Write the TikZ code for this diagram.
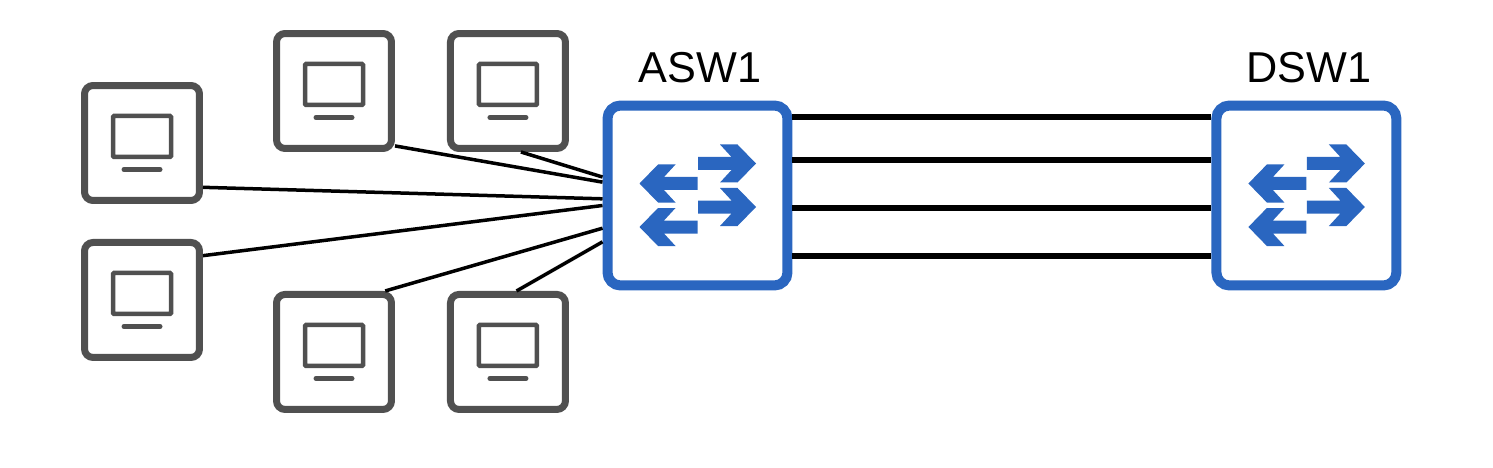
\documentclass[tikz,border=0pt]{standalone}
\usepackage{fontspec}
\setmainfont{Liberation Sans}
\usepackage{tikz}
\definecolor{swblue}{RGB}{42,102,192}
\definecolor{pcgray}{RGB}{80,80,80}
\tikzstyle{pcbox} = [rectangle, rounded corners=0.17cm, minimum size=2.3cm, draw=pcgray, line width=0.14cm, fill=white, inner sep=0pt]
\tikzstyle{swbox} = [rectangle, rounded corners=0.26cm, minimum size=3.6cm, draw=swblue, line width=0.2cm, fill=white, inner sep=0pt]
\tikzstyle{devname} = [font=\fontsize{24.6}{28}\selectfont, text=black, inner sep=0pt, xshift=0.05cm]
\tikzstyle{access} = [black, line width=0.07cm]
\tikzstyle{uplink} = [black, line width=0.13cm]
\tikzset{
  pics/screen/.style={code={
    \draw [pcgray, line width=0.09cm, rounded corners=0.02cm] (-29,27) rectangle (29,-14);
    \draw [pcgray, line width=0.1cm, line cap=round] (-18,-26.5) -- (18,-26.5);
  }},
  pics/fwdarrow/.style={code={
    \fill [swblue] (0,6.5) -- (33.5,6.5) -- (22,19) -- (39.5,19) -- (58,0) -- (39.5,-19) -- (22,-19) -- (33.5,-6.5) -- (0,-6.5) -- cycle;
  }},
}
\begin{document}
\begin{tikzpicture}[x=0.02cm, y=0.02cm]
        \useasboundingbox (0,0) rectangle (1493,467);
        \node (pc1) [pcbox] at (142,324) {};
        \node (pc2) [pcbox, below of=pc1, node distance=3.14cm] {};
        \node (pc3) [pcbox] at (334,376) {};
        \node (pc4) [pcbox, right of=pc3, node distance=3.48cm] {};
        \node (pc5) [pcbox, below of=pc3, node distance=5.22cm] {};
        \node (pc6) [pcbox, right of=pc5, node distance=3.48cm] {};
        \node (asw1) [swbox] at (697.5,271.5) {};
        \node (dsw1) [swbox, right of=asw1, node distance=12.18cm] {};
        \node (asw1_name) [devname, above of=asw1, node distance=2.55cm] {ASW1};
        \node (dsw1_name) [devname, above of=dsw1, node distance=2.55cm] {DSW1};
        % access links
        \draw [access] (pc1.-36) -- (asw1.182.7);
        \draw [access] (pc2.36) -- (asw1.186.9);
        \draw [access] (pc3.-42) -- (asw1.172.5);
        \draw [access] (pc4.-78.7) -- (asw1.169);
        \draw [access] (pc5.50) -- (asw1.199);
        \draw [access] (pc6.82.5) -- (asw1.206.7);
        % uplinks
        \draw [uplink] ([yshift=1.57cm]asw1.east) -- ([yshift=1.57cm]dsw1.west);
        \draw [uplink] ([yshift=0.71cm]asw1.east) -- ([yshift=0.71cm]dsw1.west);
        \draw [uplink] ([yshift=-0.25cm]asw1.east) -- ([yshift=-0.25cm]dsw1.west);
        \draw [uplink] ([yshift=-1.21cm]asw1.east) -- ([yshift=-1.21cm]dsw1.west);
        % icons
        \pic at (pc1) {screen};
        \pic at (pc2) {screen};
        \pic at (pc3) {screen};
        \pic at (pc4) {screen};
        \pic at (pc5) {screen};
        \pic at (pc6) {screen};
        \pic at ([shift={(0.5,32)}]asw1.center) {fwdarrow};
        \pic at ([shift={(0.5,-11.5)}]asw1.center) {fwdarrow};
        \pic [rotate=180] at ([shift={(0,12)}]asw1.center) {fwdarrow};
        \pic [rotate=180] at ([shift={(0,-31.5)}]asw1.center) {fwdarrow};
        \pic at ([shift={(0.5,32)}]dsw1.center) {fwdarrow};
        \pic at ([shift={(0.5,-11.5)}]dsw1.center) {fwdarrow};
        \pic [rotate=180] at ([shift={(0,12)}]dsw1.center) {fwdarrow};
        \pic [rotate=180] at ([shift={(0,-31.5)}]dsw1.center) {fwdarrow};
      \end{tikzpicture}
\end{document}
